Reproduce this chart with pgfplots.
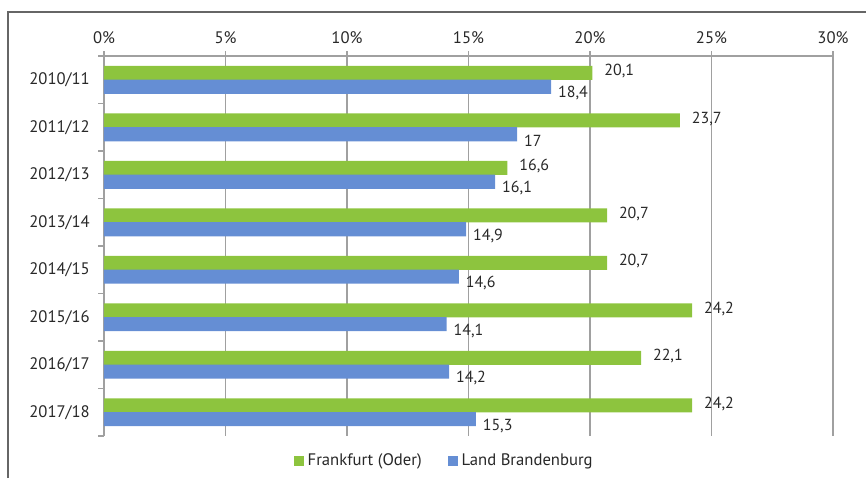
\documentclass[border=0pt]{standalone}
\usepackage{pgfplots}
\pgfplotsset{compat=1.18}
\usepackage{fontspec}
\setmainfont{PT Sans}
\definecolor{ffgreen}{RGB}{141,196,62}
\definecolor{bbblue}{RGB}{101,142,212}
\definecolor{gridgray}{RGB}{160,160,160}
\definecolor{txt}{RGB}{40,40,40}
\begin{document}
\begin{tikzpicture}
\useasboundingbox (0,0) rectangle (519.6pt,286.8pt);
\draw[gray!80!black, line width=0.7pt] (4.8pt,0) -- (4.8pt,279.6pt) -- (519.6pt,279.6pt);
\begin{axis}[
  at={(62.4pt,25.2pt)}, anchor=south west,
  scale only axis, width=437.4pt, height=228pt,
  xbar, y dir=reverse,
  xmin=0, xmax=30, ymin=-0.5, ymax=7.5,
  axis x line*=top, axis y line*=left,
  axis line style={gridgray, line width=0.8pt, -},
  xtick={0,5,...,30},
  xticklabels={0\%,5\%,10\%,15\%,20\%,25\%,30\%},
  xmajorgrids, grid style={gridgray, line width=0.8pt},
  major x tick style={gridgray, line width=0.8pt},
  major tick length=3pt,
  ytick={0,...,7},
  yticklabels={2010/11,2011/12,2012/13,2013/14,2014/15,2015/16,2016/17,2017/18},
  major y tick style={draw=none},
  minor ytick={-0.5,0.5,...,7.5},
  minor y tick style={gridgray, line width=0.8pt},
  minor tick length=3.5pt,
  tick align=outside,
  ticklabel style={font=\fontsize{10}{12}\selectfont, text=txt},
  xticklabel style={yshift=1pt},
  yticklabel style={xshift=-2pt},
  bar width=0.295,
  /pgf/number format/.cd, use comma, fixed, precision=1, assume math mode=true,
  /pgfplots/.cd,
  nodes near coords, point meta=x,
  every node near coord/.append style={font=\fontsize{9.6}{11}\selectfont, text=txt, inner sep=0pt, anchor=west},
  legend style={at={(0.468,-0.066)}, anchor=center, draw=none, legend columns=2,
    font=\fontsize{10}{12}\selectfont, text=txt,
    /tikz/every even column/.append style={column sep=14pt}},
  legend image code/.code={\fill[#1] (0pt,-3pt) rectangle (6pt,3pt);},
]
\addplot[fill=ffgreen, draw=none, bar shift=-0.147,
  every node near coord/.append style={xshift=7pt, yshift=0.8pt}]
  coordinates {(20.1,0) (23.7,1) (16.6,2) (20.7,3) (20.7,4) (24.2,5) (22.1,6) (24.2,7)};
\addplot[fill=bbblue, draw=none, bar shift=0.147,
  every node near coord/.append style={xshift=4pt, yshift=-3.8pt}]
  coordinates {(18.4,0) (17,1) (16.1,2) (14.9,3) (14.6,4) (14.1,5) (14.2,6) (15.3,7)};
\legend{Frankfurt (Oder),Land Brandenburg}
\end{axis}
\end{tikzpicture}
\end{document}
